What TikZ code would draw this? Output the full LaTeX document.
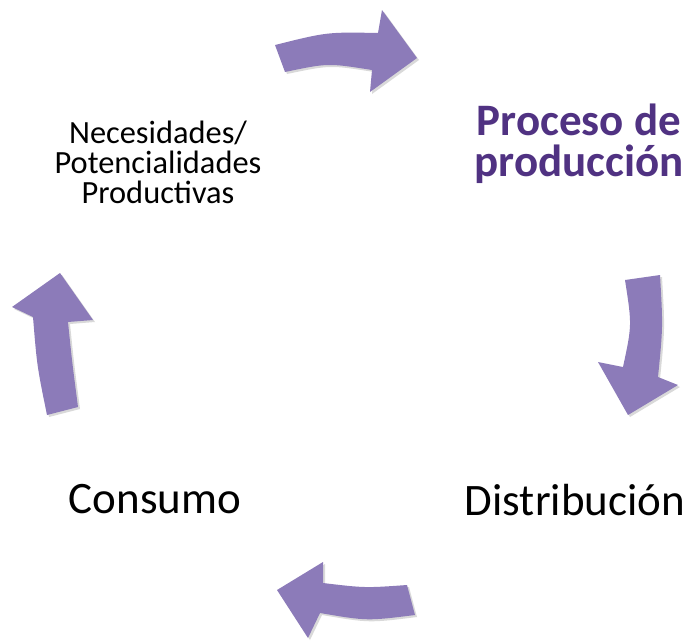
\documentclass[tikz,border=0pt]{standalone}
\usepackage{fontspec}
\setmainfont{Carlito}
\usetikzlibrary{shadows}
\definecolor{arrowfill}{RGB}{140,123,185}
\definecolor{procpurple}{RGB}{80,50,130}
\begin{document}
\begin{tikzpicture}[x=0.75pt,y=-0.75pt,
  cyclearrow/.style={fill=arrowfill, draw=none, drop shadow={opacity=0.15, shadow xshift=1.5pt, shadow yshift=-1.5pt, fill=black}},
  smalltext/.style={font=\fontsize{24.3}{29}\selectfont, inner sep=0pt, anchor=base},
  bigtext/.style={font=\fontsize{33.75}{40}\selectfont, inner sep=0pt, anchor=base},
  proctext/.style={font=\fontsize{33.75}{40}\selectfont\bfseries, text=procpurple, inner sep=0pt, anchor=base}]
\useasboundingbox (0,0) rectangle (689,640);
% top arrow
\path[cyclearrow] (275,45) .. controls (327,32) .. (378,33) -- (382,10) -- (417,58) -- (370,92) -- (372,70) .. controls (328,63) .. (285,72) -- cycle;
% right arrow
\path[cyclearrow] (625,280) -- (660,275) .. controls (663,327) .. (658,377) -- (678,385) -- (628,415) -- (598,362) -- (623,367) .. controls (632,325) .. (625,280) -- cycle;
% bottom arrow
\path[cyclearrow] (407,585) -- (415,615) .. controls (367,621) .. (320,613) -- (308,638) -- (277,590) -- (323,562) -- (323,583) .. controls (365,588) .. (407,585) -- cycle;
% left arrow
\path[cyclearrow] (47,415) -- (78,407) .. controls (72,361) .. (68,322) -- (93,320) -- (60,273) -- (12,307) -- (33,317) .. controls (37,366) .. (47,415) -- cycle;
% texts
\node[smalltext] (nec1) at (158,143) {Necesidades/};
\node[smalltext] (nec2) at (158,173) {Potencialidades};
\node[smalltext] (nec3) at (158,203) {Productivas};
\node[proctext] (proc1) at (579,135) {Proceso de};
\node[proctext] (proc2) at (579,176) {producción};
\node[bigtext] (dist) at (575,515) {Distribución};
\node[bigtext] (cons) at (155,513) {Consumo};
\end{tikzpicture}
\end{document}
